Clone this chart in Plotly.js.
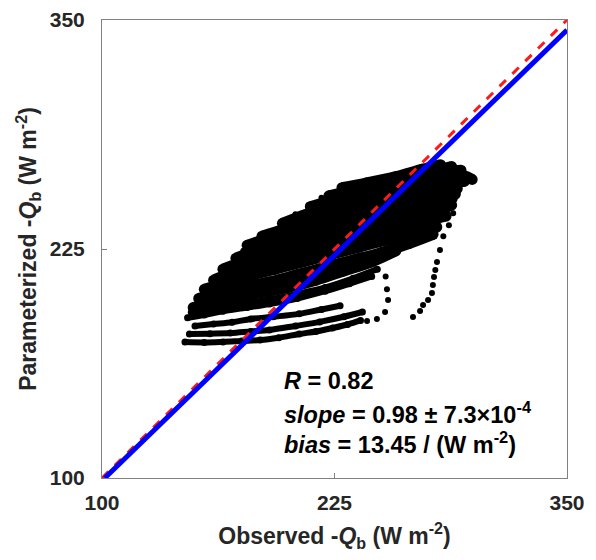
<!DOCTYPE html>
<html>
<head>
<meta charset="utf-8">
<script src="https://cdn.plot.ly/plotly-3.0.1.min.js"></script>
<style>html,body{margin:0;padding:0;background:#fff;}#chart{width:596px;height:560px;}</style>
</head>
<body>
<div id="chart"></div>
<script>
// ---- data ----
// observed -Qb (x) vs parameterized -Qb (y), W m-2
// lower streaks of the time series
const lowX = [
  [144.6, 155, 165, 175, 185, 195, 206, 215, 224, 232, 239],
  [147, 158, 169, 180, 190, 204, 217, 230, 240],
  [150, 160, 170, 180, 192, 206, 218, 228],
  [146, 155, 165, 178, 190, 205, 220, 233, 245],
  [148, 160, 175, 190, 205, 220, 235, 248]
];
const lowY = [
  [174.2, 174.0, 174.3, 174.8, 175.3, 176.6, 178.6, 180.0, 181.9, 183.8, 186.0],
  [178.6, 178.8, 179.1, 180.0, 180.8, 183.0, 185.2, 188.0, 190.6],
  [183.0, 184.0, 185.0, 186.8, 188.0, 189.6, 192.0, 194.0],
  [187.5, 189, 191, 193, 195, 198, 202, 206, 210],
  [190.5, 192.5, 195, 197.5, 200.5, 204, 209, 214]
];
// dense core streaks
const coreX = [
  [149, 158, 170, 185, 200, 215, 230, 245, 258],
  [152, 162, 175, 190, 205, 220, 235, 250, 265, 278],
  [155, 165, 178, 193, 208, 223, 238, 253, 268, 280],
  [160, 170, 183, 198, 213, 228, 243, 258, 273, 285],
  [165, 176, 190, 205, 220, 235, 250, 265, 280, 288],
  [172, 183, 197, 212, 227, 242, 257, 272, 284, 290],
  [178, 190, 204, 219, 234, 249, 264, 279, 291],
  [186, 198, 212, 226, 241, 256, 271, 286, 295],
  [197, 210, 224, 238, 253, 268, 283, 294, 299],
  [212, 225, 240, 255, 270, 284, 293],
  [222, 235, 250, 265, 280, 288],
  [229, 242, 258, 272, 282]
];
const coreY = [
  [193, 195, 198, 201, 204, 208, 213, 218, 224],
  [198, 201, 204, 207, 211, 215, 219, 223, 228, 233],
  [203, 206, 210, 214, 218, 222, 226, 230, 234, 237],
  [208, 212, 216, 220, 224, 228, 232, 236, 240, 243],
  [214, 218, 222, 226, 230, 234, 238, 242, 246, 249],
  [220, 224, 228, 232, 236, 240, 244, 248, 252, 255],
  [227, 231, 235, 239, 243, 247, 251, 255, 258],
  [232, 236, 241, 245, 249, 253, 257, 260, 262],
  [239, 244, 248, 252, 256, 260, 263, 265, 263],
  [248, 252, 256, 260, 264, 267, 268],
  [254, 257, 261, 264, 268, 270],
  [258.5, 261, 264.5, 268.5, 271]
];
// loose dots along the upper-left edge of the cloud
const looseX = [150, 154.3, 158, 162, 166, 171.5, 176, 179.6, 186, 190.3, 197, 204, 211, 218];
const looseY = [194.4, 201, 197, 205, 208, 218, 224, 227, 231, 234, 239, 244, 249, 253];
// dotted tails below the dense core
const tail1X = [290.9, 289.5, 288.8, 286.5, 283.5, 281.7, 280.1, 279.2, 278.5, 277.9, 277.4, 275.3, 272.6, 271.0, 267.2];
const tail1Y = [261, 252, 244.5, 238, 232, 224.5, 217.9, 213.5, 209.7, 205.3, 201.0, 197.2, 194.4, 191.2, 187.9];
const tail2X = [251, 252.5, 253.2, 253.8, 252.2, 247.8, 242.5];
const tail2Y = [221, 210, 203, 197.2, 190.6, 186.8, 185.7];
// reference and fitted lines
const oneToOneX = [100, 350];
const oneToOneY = [100, 350];
const fitX = [101.5, 350];
const fitY = [100, 344.5];
// axis ticks
const tickVals = [100, 225, 350];
const tickText = ['100', '225', '350'];
// statistics text
const statLines = [
  '<i>R</i> = 0.82',
  '<i>slope</i> = 0.98 ± 7.3×10<sup>-4</sup>',
  '<i>bias</i> = 13.45 / (W m<sup>-2</sup>)'
];
const statY = [152.9, 135.5, 119.1];

// ---- traces ----
const traces = [];
for (let i = 0; i < lowX.length; i++) {
  traces.push({
    x: lowX[i], y: lowY[i], type: 'scatter', mode: 'lines+markers',
    line: {color: '#000', width: 6, shape: 'spline'},
    marker: {color: '#000', size: 7},
    showlegend: false, hoverinfo: 'skip'
  });
}
for (let i = 0; i < coreX.length; i++) {
  traces.push({
    x: coreX[i], y: coreY[i], type: 'scatter', mode: 'lines+markers',
    line: {color: '#000', width: 11, shape: 'spline'},
    marker: {color: '#000', size: 11},
    showlegend: false, hoverinfo: 'skip'
  });
}
traces.push({x: looseX, y: looseY, type: 'scatter', mode: 'markers',
  marker: {color: '#000', size: 6}, showlegend: false});
traces.push({x: tail1X, y: tail1Y, type: 'scatter', mode: 'markers',
  marker: {color: '#000', size: 6}, showlegend: false});
traces.push({x: tail2X, y: tail2Y, type: 'scatter', mode: 'markers',
  marker: {color: '#000', size: 6}, showlegend: false});
traces.push({x: oneToOneX, y: oneToOneY, type: 'scatter', mode: 'lines',
  line: {color: '#ff1a1a', width: 3, dash: 'dash'}, showlegend: false});
traces.push({x: fitX, y: fitY, type: 'scatter', mode: 'lines',
  line: {color: '#0000ff', width: 5}, showlegend: false});

const fontFam = '"Liberation Sans", Arial, sans-serif';
const axisCommon = {
  range: [100, 350], tickvals: tickVals, ticktext: tickText,
  ticks: 'inside', ticklen: 5, tickcolor: '#808080', tickwidth: 1,
  showline: true, mirror: true, linecolor: '#808080', linewidth: 1,
  showgrid: false, zeroline: false,
  tickfont: {family: fontFam, size: 21, color: '#262626', weight: 'bold'}
};

const annotations = statLines.map((t, i) => ({
  x: 196.8, y: statY[i], xref: 'x', yref: 'y', text: t, showarrow: false,
  xanchor: 'left', yanchor: 'middle',
  font: {family: fontFam, size: 23.5, color: '#000', weight: 'bold'}
}));

const layout = {
  width: 596, height: 560,
  margin: {l: 102, r: 29, t: 20, b: 82},
  paper_bgcolor: '#fff', plot_bgcolor: '#fff',
  xaxis: Object.assign({}, axisCommon, {
    ticklabelstandoff: 6,
    title: {text: 'Observed -<i>Q</i><sub>b</sub> (W m<sup>-2</sup>)', standoff: 14,
      font: {family: fontFam, size: 23, color: '#262626', weight: 'bold'}}
  }),
  yaxis: Object.assign({}, axisCommon, {
    ticklabelstandoff: 12,
    title: {text: 'Parameterized -<i>Q</i><sub>b</sub> (W m<sup>-2</sup>)', standoff: 6,
      font: {family: fontFam, size: 23, color: '#262626', weight: 'bold'}}
  }),
  annotations: annotations,
  showlegend: false
};

Plotly.newPlot('chart', traces, layout, {displayModeBar: false, staticPlot: true});
</script>
</body>
</html>
